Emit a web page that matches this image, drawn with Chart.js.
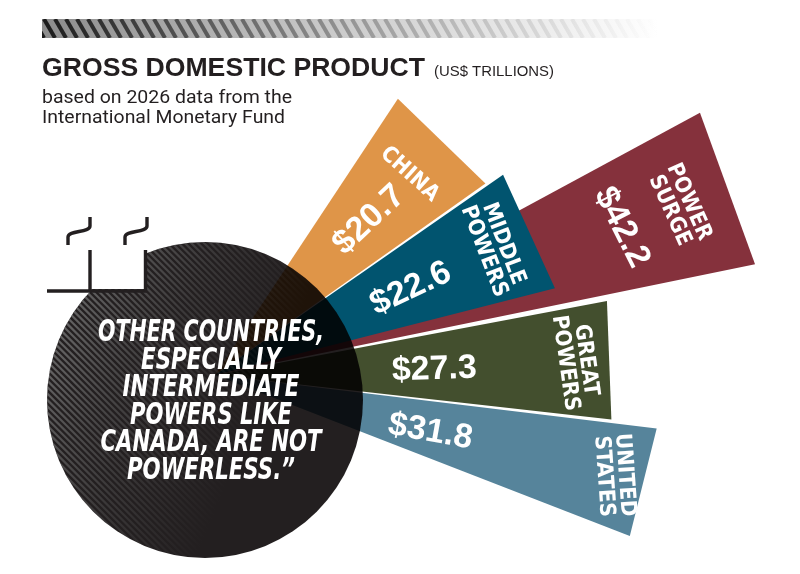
<!DOCTYPE html>
<html>
<head>
<meta charset="utf-8">
<script src="https://cdn.jsdelivr.net/npm/chart.js@4.4.1/dist/chart.umd.min.js"></script>
<style>
  html, body { margin: 0; padding: 0; background: #fff; }
</style>
</head>
<body>
<canvas id="gdpChart" width="800" height="574"></canvas>
<script>
// GDP 2026, US$ trillions (IMF)
var groups = ["China", "Middle powers", "Power surge", "Great powers", "United States"];
var gdp = [20.7, 22.6, 42.2, 27.3, 31.8];
var valueLabels = ["$20.7", "$22.6", "$42.2", "$27.3", "$31.8"];
var nameLabels = [["CHINA"], ["MIDDLE", "POWERS"], ["POWER", "SURGE"], ["GREAT", "POWERS"], ["UNITED", "STATES"]];
var colors = ["#df9548", "#01546f", "#85313c", "#434f2e", "#56849b"];

var titleText = "GROSS DOMESTIC PRODUCT";
var unitText = "(US$ TRILLIONS)";
var subtitle = ["based on 2026 data from the", "International Monetary Fund"];
var quoteLines = ["OTHER COUNTRIES,", "ESPECIALLY", "INTERMEDIATE", "POWERS LIKE", "CANADA, ARE NOT", "POWERLESS.\u201D"];

var ink = "#231f20";

// ---- fan layout (canvas degrees, 0 = 3 o'clock) ----
var startDeg = -56.5;
var wedgeStart = [-56.5, -34.8, -28.4, -10.7, 6.9];
var wedgeSweep = [21.2, 20.5, 16.8, 17.1, 14.3];
var frontGroups = [0, 1, 3, 4];   // drawn on top
var backGroups = [2];             // power surge sits behind middle powers

// label placement: share of wedge radius + text rotation
var valuePos = [0.66, 0.61, 0.79, 0.55, 0.5];
var namePos = [0.85, 0.88, 0.9, 0.91, 0.93];
var valueRot = [-43, -25, 63, -2, 10];
var nameRot = [42, 69, 66, 82, 86];

var slot = [];

function buildRing(list, dsIndex) {
  var data = [], angles = [], fills = [], at = startDeg;
  list.forEach(function (g) {
    var gap = wedgeStart[g] - at;
    if (gap > 0.01) {
      data.push(null); angles.push(gap); fills.push("rgba(0,0,0,0)");
    }
    slot[g] = {ds: dsIndex, i: data.length};
    data.push(gdp[g]); angles.push(wedgeSweep[g]); fills.push(colors[g]);
    at = wedgeStart[g] + wedgeSweep[g];
  });
  return {data: data, angle: angles, backgroundColor: fills, borderWidth: 0, circular: false, clip: false};
}

var front = buildRing(frontGroups, 0);
var back = buildRing(backGroups, 1);

// radial scale: centre of fan at chart area centre
var pad = {left: 16, right: 386, top: 176, bottom: 0};
var R = Math.min(800 - pad.left - pad.right, 574 - pad.top - pad.bottom) / 2;
var pxPerUnit = 10.23, pxAtZero = 119.6;
var rMin = -pxAtZero / pxPerUnit;
var rMax = rMin + R / pxPerUnit;

function fitText(c, text, x, y, width) {
  var w = c.measureText(text).width;
  c.save();
  c.translate(x, y);
  c.scale(width / w, 1);
  c.fillText(text, 0, 0);
  c.restore();
}

function drawBar(c) {
  var x0 = 42, x1 = 658, y0 = 19, y1 = 38;
  c.save();
  c.beginPath(); c.rect(x0, y0, x1 - x0, y1 - y0); c.clip();
  var g = c.createLinearGradient(x0, 0, x1, 0);
  g.addColorStop(0, "#8c8c8c");
  g.addColorStop(0.45, "#c8c8c8");
  g.addColorStop(1, "#ffffff");
  c.fillStyle = g;
  c.fillRect(x0, y0, x1 - x0, y1 - y0);
  var s = c.createLinearGradient(x0, 0, x1, 0);
  s.addColorStop(0, "rgba(20,20,20,0.95)");
  s.addColorStop(0.5, "rgba(80,80,80,0.45)");
  s.addColorStop(1, "rgba(140,140,140,0)");
  c.strokeStyle = s;
  c.lineWidth = 4;
  for (var x = x0 - 20; x < x1 + 20; x += 11) {
    c.beginPath(); c.moveTo(x, y0); c.lineTo(x + 11, y1); c.stroke();
  }
  c.restore();
}

function drawDisc(c) {
  var cx = 205, cy = 400, r = 158;
  c.save();
  c.globalCompositeOperation = "multiply";
  c.fillStyle = ink;
  c.beginPath(); c.arc(cx, cy, r, 0, Math.PI * 2); c.fill();
  c.globalCompositeOperation = "source-over";
  c.beginPath(); c.arc(cx, cy, r, 0, Math.PI * 2); c.clip();
  var g = c.createLinearGradient(45, 330, 255, 420);
  g.addColorStop(0, "rgba(120,120,120,0.85)");
  g.addColorStop(0.55, "rgba(100,100,100,0.35)");
  g.addColorStop(1, "rgba(100,100,100,0)");
  c.strokeStyle = g;
  c.lineWidth = 2.2;
  for (var k = -420; k < 420; k += 6.4) {
    c.beginPath(); c.moveTo(cx + k - 220, cy - 220); c.lineTo(cx + k + 220, cy + 220); c.stroke();
  }
  c.restore();
}

function hook(c, x, y) {
  c.beginPath();
  c.moveTo(x, y); c.lineTo(x, y + 9);
  c.bezierCurveTo(x, y + 16, x - 22, y + 13, x - 22, y + 20);
  c.lineTo(x - 22, y + 28);
  c.stroke();
}

function drawQuoteMarks(c) {
  c.save();
  c.fillStyle = "#fff";
  c.fillRect(40, 200, 106, 89);
  c.strokeStyle = ink;
  c.lineWidth = 3.4;
  c.beginPath();
  c.moveTo(47, 291); c.lineTo(147, 291);
  c.moveTo(90, 250); c.lineTo(90, 291);
  c.moveTo(145.5, 250); c.lineTo(145.5, 291);
  c.stroke();
  hook(c, 90, 217);
  hook(c, 147, 217);
  c.restore();
}

function drawQuote(c) {
  var widths = [226, 140, 177, 162, 221, 168];
  c.save();
  c.fillStyle = "#fff";
  c.textAlign = "center";
  c.textBaseline = "alphabetic";
  c.font = 'italic bold 31px "Liberation Sans Narrow", "DejaVu Sans Condensed", "Liberation Sans", sans-serif';
  quoteLines.forEach(function (t, i) {
    c.fillText(t, 211, 341 + i * 27.5, widths[i]);
  });
  c.restore();
}

function drawWedgeLabels(chart, c) {
  c.save();
  c.fillStyle = "#fff";
  c.textAlign = "center";
  c.textBaseline = "alphabetic";
  groups.forEach(function (name, g) {
    var s = slot[g];
    var el = chart.getDatasetMeta(s.ds).data[s.i];
    var p = el.getProps(["x", "y", "startAngle", "endAngle", "outerRadius"], true);
    var mid = (p.startAngle + p.endAngle) / 2;

    var vd = p.outerRadius * valuePos[g];
    c.save();
    c.translate(p.x + Math.cos(mid) * vd, p.y + Math.sin(mid) * vd);
    c.rotate(valueRot[g] * Math.PI / 180);
    c.font = 'bold 34px "Liberation Sans", Arial, sans-serif';
    c.fillText(valueLabels[g], 0, 34 * 0.36);
    c.restore();

    var nd = p.outerRadius * namePos[g];
    var lines = nameLabels[g], lh = 21;
    c.save();
    c.translate(p.x + Math.cos(mid) * nd, p.y + Math.sin(mid) * nd);
    c.rotate(nameRot[g] * Math.PI / 180);
    c.font = 'bold 22px "Liberation Sans Narrow", "DejaVu Sans Condensed", "Liberation Sans", sans-serif';
    lines.forEach(function (t, k) {
      c.fillText(t, 0, (k - (lines.length - 1) / 2) * lh + 22 * 0.36);
    });
    c.restore();
  });
  c.restore();
}

var infographic = {
  id: "infographic",
  beforeDraw: function (chart) {
    var c = chart.ctx;
    c.save();
    c.fillStyle = "#fff";
    c.fillRect(0, 0, chart.width, chart.height);
    drawBar(c);
    c.fillStyle = ink;
    c.textAlign = "left";
    c.textBaseline = "alphabetic";
    c.font = 'bold 25px "Liberation Sans", Arial, sans-serif';
    fitText(c, titleText, 42, 76, 383);
    c.font = '15px "Liberation Sans Narrow", "Liberation Sans", sans-serif';
    fitText(c, unitText, 434, 76, 120);
    c.font = '18.5px Roboto, "Liberation Sans", sans-serif';
    fitText(c, subtitle[0], 42, 103, 250);
    fitText(c, subtitle[1], 42, 123, 243);
    c.restore();
  },
  afterDatasetsDraw: function (chart) {
    var c = chart.ctx;
    drawDisc(c);
    drawQuoteMarks(c);
    drawQuote(c);
    drawWedgeLabels(chart, c);
  }
};

var myChart = new Chart(document.getElementById("gdpChart"), {
  type: "polarArea",
  data: {
    labels: front.data.map(function () { return ""; }),
    datasets: [front, back]
  },
  options: {
    responsive: false,
    animation: false,
    events: [],
    layout: { padding: pad },
    scales: {
      r: {
        display: false,
        min: rMin,
        max: rMax,
        startAngle: startDeg + 90
      }
    },
    plugins: {
      legend: { display: false },
      tooltip: { enabled: false }
    }
  },
  plugins: [infographic]
});
</script>
</body>
</html>
